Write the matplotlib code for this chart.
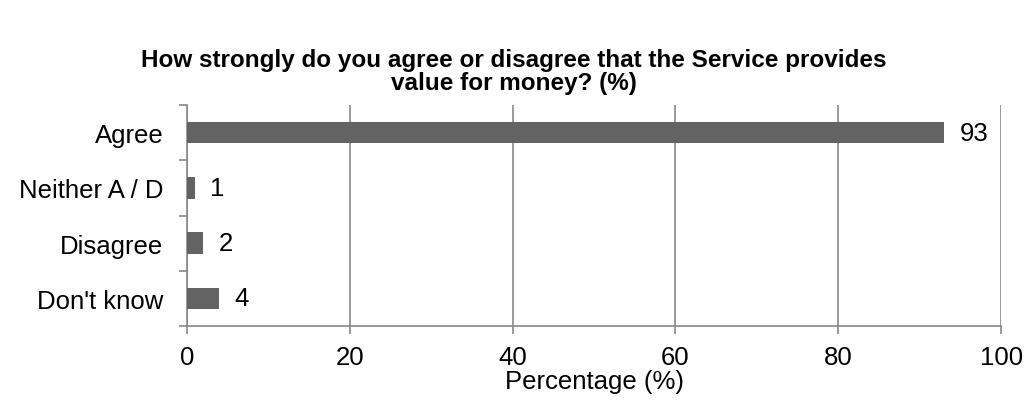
import matplotlib.pyplot as plt

categories = ["Agree", "Neither A / D", "Disagree", "Don't know"]
values = [93, 1, 2, 4]
xticks = [0, 20, 40, 60, 80, 100]

plt.rcParams['font.family'] = ['Liberation Sans', 'DejaVu Sans']

fig = plt.figure(figsize=(10.27, 4.1), dpi=100)
ax = fig.add_axes([0.182, 0.2024, 0.7928, 0.539])

axis_col = "#888888"
fs = 18.5
pos = list(range(len(categories)))[::-1]
ax.barh(pos, values, height=0.39, color="#636363", zorder=3)

for p, v in zip(pos, values):
    ax.annotate(str(v), (v, p), xytext=(11, 0), textcoords="offset points",
                ha="left", va="center", fontsize=fs)

ax.set_xlim(0, 100)
ax.set_ylim(-0.5, len(categories) - 0.5)
ax.set_xticks(xticks)
ax.set_xticklabels([str(t) for t in xticks], fontsize=fs)
ax.set_yticks(pos)
ax.set_yticklabels(categories, fontsize=fs)
ax.set_yticks([i - 0.5 for i in range(len(categories) + 1)], minor=True)

ax.tick_params(axis="y", which="major", length=0, pad=17)
ax.tick_params(axis="y", which="minor", length=6, color=axis_col, width=1.2)
ax.tick_params(axis="x", length=6, color=axis_col, width=1.2, pad=8)

ax.grid(axis="x", color=axis_col, linewidth=1.2, zorder=0)
for s in ["top", "right"]:
    ax.spines[s].set_visible(False)
for s in ["left", "bottom"]:
    ax.spines[s].set_color(axis_col)
    ax.spines[s].set_linewidth(1.2)

ax.set_xlabel("Percentage (%)", fontsize=fs, labelpad=0)
fig.suptitle("How strongly do you agree or disagree that the Service provides\nvalue for money? (%)",
             fontsize=17.5, fontweight="bold", y=0.88, va="top", linespacing=1.0)

fig.savefig("out.png", dpi=100)
